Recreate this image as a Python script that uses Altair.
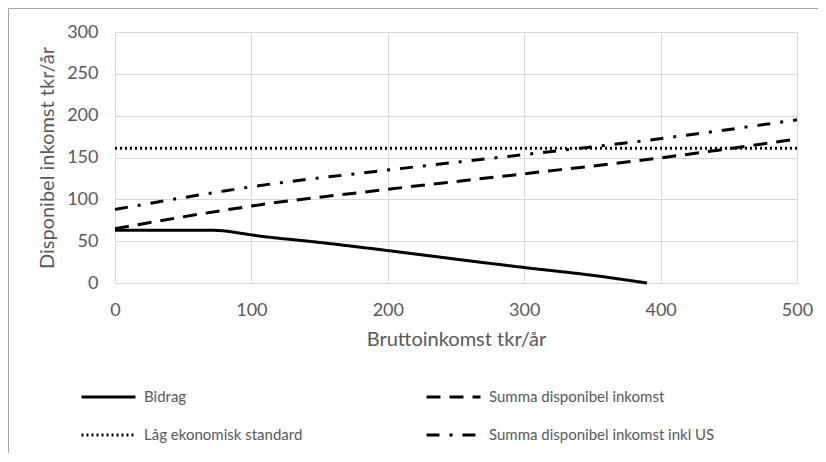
import altair as alt
import pandas as pd

# ---- data ----
series_names = [
    "Bidrag",
    "Summa disponibel inkomst",
    "Låg ekonomisk standard",
    "Summa disponibel inkomst inkl US",
]

bidrag_x = [0, 50, 70, 80, 90, 100, 150, 200, 250, 300, 350, 390]
bidrag_y = [63, 63, 63, 62.3, 60, 57.5, 48.5, 38.8, 28.5, 18.5, 9.2, 0]

summa_x = [0, 80, 100, 200, 300, 390, 500]
summa_y = [65, 87, 92, 112, 130.5, 147.5, 172]

lag_x = [0, 500]
lag_y = [161, 161]

summa_us_x = [0, 80, 100, 200, 300, 390, 500]
summa_us_y = [88, 110, 115, 135, 153.5, 170.5, 195]

x_ticks = [0, 100, 200, 300, 400, 500]
y_ticks = [0, 50, 100, 150, 200, 250, 300]

rows = []
for name, xs, ys in [
    (series_names[0], bidrag_x, bidrag_y),
    (series_names[1], summa_x, summa_y),
    (series_names[2], lag_x, lag_y),
    (series_names[3], summa_us_x, summa_us_y),
]:
    for i, (a, b) in enumerate(zip(xs, ys)):
        rows.append({"serie": name, "x": a, "y": b, "ord": i})
df = pd.DataFrame(rows)

FONT = "Lato"
TXT = "#595959"
GRID = "#d9d9d9"

lines = alt.Chart(df).mark_line(color="black", interpolate="monotone").encode(
    x=alt.X(
        "x:Q",
        scale=alt.Scale(domain=[0, 500], nice=False),
        axis=alt.Axis(
            values=x_ticks,
            title="Bruttoinkomst tkr/år",
            labelPadding=18,
            labelFlush=False,
            titlePadding=10,
        ),
    ),
    y=alt.Y(
        "y:Q",
        scale=alt.Scale(domain=[0, 300], nice=False),
        axis=alt.Axis(
            values=y_ticks,
            title="Disponibel inkomst tkr/år",
            labelPadding=17,
            labelFlush=False,
            titlePadding=9,
        ),
    ),
    strokeDash=alt.StrokeDash(
        "serie:N",
        scale=alt.Scale(
            domain=series_names,
            range=[[1, 0], [14, 9], [2, 3], [13, 10, 3, 10]],
        ),
        legend=alt.Legend(
            title=None,
            values=series_names,
            orient="none",
            direction="horizontal",
            legendX=-35,
            legendY=356,
            columns=2,
            columnPadding=122,
            rowPadding=20,
            symbolType="stroke",
            symbolSize=2916,
            symbolStrokeWidth=3,
            symbolStrokeColor="black",
            clipHeight=18,
            labelOffset=7,
            labelFontSize=15,
            labelFont=FONT,
            labelColor=TXT,
            labelLimit=400,
        ),
    ),
    strokeWidth=alt.StrokeWidth(
        "serie:N",
        scale=alt.Scale(domain=series_names, range=[3, 3, 2.3, 3]),
        legend=None,
    ),
    order="ord:Q",
)

frame_df = pd.DataFrame({"k": [0]})
frame_left = alt.Chart(frame_df).mark_rule(color="#a6a6a6", strokeWidth=1).encode(
    x=alt.value(-106.5), y=alt.value(-23.5), y2=alt.value(440)
)
frame_top = alt.Chart(frame_df).mark_rule(color="#a6a6a6", strokeWidth=1).encode(
    x=alt.value(-106.5), x2=alt.value(720), y=alt.value(-23.5)
)

chart = (
    alt.layer(lines, frame_left, frame_top)
    .properties(
        width=682,
        height=251,
        autosize=alt.AutoSizeParams(type="none"),
        padding={"left": 107, "top": 24, "right": 21, "bottom": 170},
    )
    .configure_view(stroke=None)
    .configure_axis(
        grid=True,
        gridColor=GRID,
        gridWidth=1,
        domain=False,
        ticks=False,
        labelFont=FONT,
        labelFontSize=18,
        labelColor=TXT,
        titleFont=FONT,
        titleFontSize=20,
        titleFontWeight="normal",
        titleColor=TXT,
    )
)

chart.save("out.html", embed_options={"renderer": "svg", "actions": False})
